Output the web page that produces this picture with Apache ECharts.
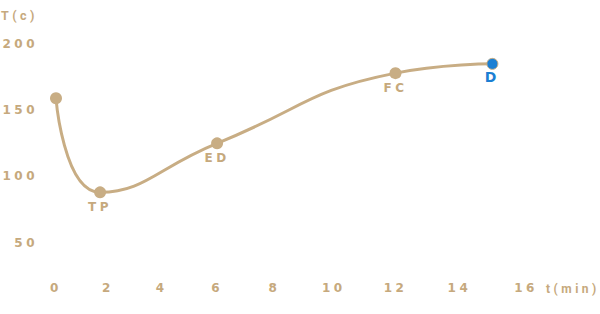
<!DOCTYPE html>
<html><head><meta charset="utf-8">
<script src="https://cdn.jsdelivr.net/npm/echarts@6/dist/echarts.min.js"></script>
<style>
html,body{margin:0;padding:0;background:#fff;}
#chart{width:600px;height:314px;letter-spacing:3.5px;}
</style></head><body><div id="chart"></div>
<script>
// roast stages
const stageNames = ['', 'TP', 'ED', 'FC', 'D'];
const timeMin = [0, 1.7, 6, 12, 15];
const tempC = [159, 88, 125, 178, 185];
const xTickLabels = [0, 2, 4, 6, 8, 10, 12, 14, 16];
const yTickLabels = [50, 100, 150, 200];

// the time axis of the reference widens towards the right; it is drawn with
// an inverted log axis measured from a reference time
const TIME_REF = 65;
const TAN = '#c8ad84';
const TEXT = '#c6a97d';
const BLUE = '#1b7fd3';
const FONT = '"DejaVu Sans", sans-serif';
const NAME_FONT = 'Roboto, "DejaVu Sans", sans-serif';

const logv = v => Math.log(v) / Math.log(10);
const xCustom = xTickLabels.map(t => TIME_REF - t)
  .concat(xTickLabels.map(t => logv(TIME_REF - t)));

const chart = echarts.init(document.getElementById('chart'), null, {renderer: 'svg'});
const data = timeMin.map((t, i) => {
  const last = i === timeMin.length - 1;
  return {
    value: [TIME_REF - t, tempC[i]],
    symbol: 'circle',
    symbolSize: last ? 11 : 12,
    itemStyle: last ? {color: BLUE, borderColor: TAN, borderWidth: 1} : {color: TAN, borderWidth: 0},
    label: {
      show: i > 0,
      position: 'bottom',
      distance: last ? 0 : 3,
      formatter: stageNames[i],
      color: last ? BLUE : TEXT,
      fontSize: last ? 14 : 12,
      fontWeight: 'bold',
      fontFamily: FONT
    }
  };
});

chart.setOption({
  animation: false,
  grid: {left: 56, right: 74, top: 44, bottom: 25, outerBoundsMode: 'none'},
  xAxis: {
    type: 'log', logBase: 10, inverse: true, min: TIME_REF - 16, max: TIME_REF,
    name: 't(min)', nameLocation: 'start', nameGap: 20,
    nameTextStyle: {color: TEXT, fontSize: 12, fontWeight: 'bold', fontFamily: NAME_FONT},
    axisLine: {show: false}, axisTick: {show: false}, splitLine: {show: false},
    axisLabel: {
      customValues: xCustom,
      formatter: v => { const u = v < 10 ? Math.pow(10, v) : v; return String(Math.round(TIME_REF - u)); },
      color: TEXT, fontSize: 12, fontWeight: 'bold', fontFamily: FONT, margin: -7
    }
  },
  yAxis: {
    type: 'value', min: 15, max: 200,
    name: 'T(c)', nameLocation: 'end', nameGap: 22,
    nameTextStyle: {color: TEXT, fontSize: 12.5, fontWeight: 'bold', fontFamily: NAME_FONT, align: 'center', padding: [0, 73, 0, 0]},
    axisLine: {show: false}, axisTick: {show: false}, splitLine: {show: false},
    axisLabel: {customValues: yTickLabels, color: TEXT, fontSize: 12, fontWeight: 'bold', fontFamily: FONT, margin: 18}
  },
  series: [{
    type: 'line', smooth: 0.5, data: data,
    symbol: 'circle',
    lineStyle: {color: TAN, width: 3},
    itemStyle: {color: TAN},
    z: 2
  }]
});
</script></body></html>
